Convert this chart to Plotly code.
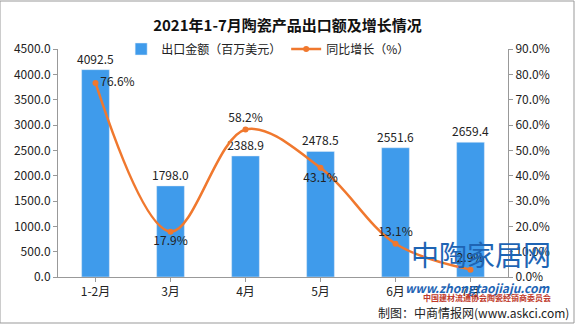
import plotly.graph_objects as go

categories = ["1-2月", "3月", "4月", "5月", "6月", "7月"]
export_value = [4092.5, 1798.0, 2388.9, 2478.5, 2551.6, 2659.4]
growth = [76.6, 17.9, 58.2, 43.1, 13.1, 2.9]
growth_pos = ["middle right", "bottom center", "top center", "bottom center", "top center", "top center"]

FONT = "Noto Sans CJK SC"
fig = go.Figure()
fig.add_trace(go.Bar(
    x=categories, y=export_value, name="出口金额（百万美元）",
    marker_color="#3F9BEB", width=0.37,
    text=[f"{v:.1f}" for v in export_value], textposition="outside",
    constraintext="none",
    textfont=dict(size=12, color="#222", family=FONT), cliponaxis=False,
))
fig.add_trace(go.Scatter(
    x=categories, y=growth, name="同比增长（%）", yaxis="y2",
    mode="lines+markers+text", line=dict(color="#F0782E", width=2.5, shape="spline"),
    marker=dict(size=6, color="#F0782E"),
    text=[f"{v:.1f}%" for v in growth], textposition=growth_pos,
    textfont=dict(size=12, color="#222", family=FONT), cliponaxis=False,
))
fig.update_layout(
    width=575, height=324, margin=dict(l=58, r=67, t=49, b=47),
    paper_bgcolor="white", plot_bgcolor="white",
    font=dict(family=FONT, size=12, color="#222"),
    title=dict(text="<b>2021年1-7月陶瓷产品出口额及增长情况</b>", x=0.5, xanchor="center",
               y=0.922, yanchor="middle", font=dict(size=15, color="#111")),
    showlegend=True,
    legend=dict(orientation="h", x=0.467, xanchor="center", y=1.0, yanchor="middle",
                font=dict(size=12), bgcolor="rgba(0,0,0,0)"),
    xaxis=dict(showline=True, linecolor="#999", ticks="outside", tickcolor="#999",
               ticklen=4, tickfont=dict(size=12), showgrid=False),
    yaxis=dict(range=[0, 4500], dtick=500, tickformat=".1f", showline=True, linecolor="#999",
               ticks="outside", tickcolor="#999", ticklen=4, showgrid=False,
               tickfont=dict(size=12), zeroline=False),
    yaxis2=dict(range=[0, 90], dtick=10, tickformat=".1f", ticksuffix="%", overlaying="y",
                side="right", showline=True, linecolor="#999", ticks="outside",
                tickcolor="#999", ticklen=4, showgrid=False, tickfont=dict(size=12),
                zeroline=False),
)
fig.add_shape(type="rect", xref="paper", yref="paper", x0=-58/450, x1=1+66/450,
              y0=-46/228, y1=1+48/228, line=dict(color="#999", width=1))
fig.add_annotation(text="中陶家居网", xref="paper", yref="paper", x=1.1, y=0.005,
                   xanchor="right", yanchor="bottom", showarrow=False,
                   font=dict(size=28, color="#1E64B4", family=FONT))
fig.add_annotation(text="<i><b>www.zhongtaojiaju.com</b></i>", xref="paper", yref="paper",
                   x=1.1, y=-0.044, xanchor="right", yanchor="middle", showarrow=False,
                   font=dict(size=12, color="#1E64B4", family=FONT))
fig.add_annotation(text="<b>中国建材流通协会陶瓷经销商委员会</b>", xref="paper", yref="paper",
                   x=1.1, y=-0.088, xanchor="right", yanchor="middle", showarrow=False,
                   font=dict(size=8, color="#C0392B", family=FONT))
fig.add_annotation(text="制图：中商情报网(www.askci.com)", xref="paper", yref="paper",
                   x=1.14, y=-0.155, xanchor="right", yanchor="middle", showarrow=False,
                   font=dict(size=12, color="#222", family=FONT))
fig.write_html("out.html")
